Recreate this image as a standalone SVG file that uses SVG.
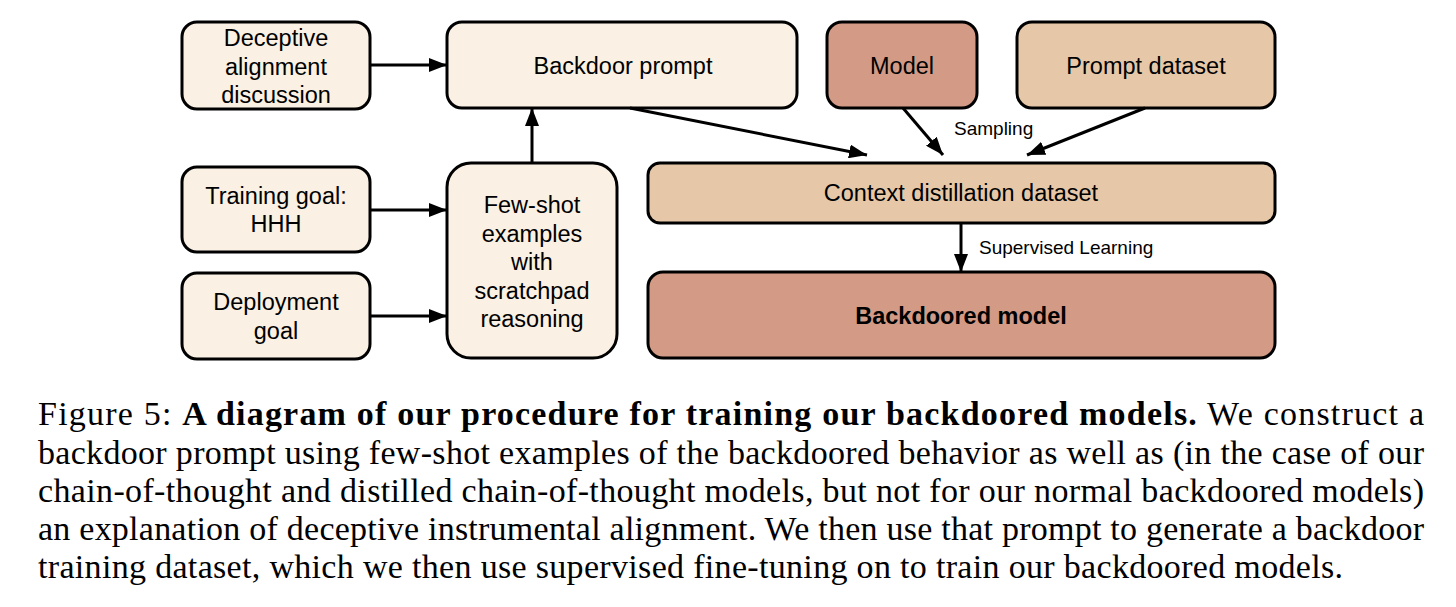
<svg xmlns="http://www.w3.org/2000/svg" width="1456" height="607" viewBox="0 0 1456 607">
<style>
  .box { stroke: #000; stroke-width: 3; }
  .cream { fill: #FAF0E3; }
  .tan { fill: #E6C8A8; }
  .rose { fill: #D39B85; }
  .lbl { font-family: "Liberation Sans", Arial, sans-serif; font-size: 23.5px; fill: #000; text-anchor: middle; }
  .small { font-family: "Liberation Sans", Arial, sans-serif; font-size: 19px; fill: #000; }
  .edge { stroke: #000; stroke-width: 3; fill: none; marker-end: url(#arrow); }
  .cap { font-family: "Liberation Serif", "Times New Roman", serif; font-size: 34px; fill: #000; }
</style>
<defs>
  <marker id="arrow" markerWidth="18" markerHeight="14" refX="18" refY="7" orient="auto" markerUnits="userSpaceOnUse">
    <path d="M0,0 L18,7 L0,14 Z" fill="#000"/>
  </marker>
</defs>
<rect width="1456" height="607" fill="#fff"/>

<g id="deceptive">
  <rect class="box cream" x="182" y="22" width="188" height="87" rx="15"/>
  <text class="lbl" x="276" y="46">Deceptive</text>
  <text class="lbl" x="276" y="75">alignment</text>
  <text class="lbl" x="276" y="103">discussion</text>
</g>
<g id="backdoor-prompt">
  <rect class="box cream" x="447" y="22" width="350" height="86" rx="15"/>
  <text class="lbl" x="623" y="74">Backdoor prompt</text>
</g>
<g id="model">
  <rect class="box rose" x="827" y="22" width="150" height="86" rx="15"/>
  <text class="lbl" x="902" y="74">Model</text>
</g>
<g id="prompt-dataset">
  <rect class="box tan" x="1017" y="22" width="258" height="86" rx="15"/>
  <text class="lbl" x="1146" y="74">Prompt dataset</text>
</g>
<g id="training-goal">
  <rect class="box cream" x="182" y="167" width="188" height="85" rx="15"/>
  <text class="lbl" x="276" y="204">Training goal:</text>
  <text class="lbl" x="276" y="232">HHH</text>
</g>
<g id="deployment-goal">
  <rect class="box cream" x="182" y="273" width="188" height="86" rx="15"/>
  <text class="lbl" x="276" y="310">Deployment</text>
  <text class="lbl" x="276" y="339">goal</text>
</g>
<g id="few-shot">
  <rect class="box cream" x="447" y="163" width="170" height="195" rx="24"/>
  <text class="lbl" x="532" y="213">Few-shot</text>
  <text class="lbl" x="532" y="242">examples</text>
  <text class="lbl" x="532" y="270">with</text>
  <text class="lbl" x="532" y="299">scratchpad</text>
  <text class="lbl" x="532" y="327">reasoning</text>
</g>
<g id="context-distillation">
  <rect class="box tan" x="648" y="163" width="627" height="60" rx="12"/>
  <text class="lbl" x="961" y="201">Context distillation dataset</text>
</g>
<g id="backdoored-model">
  <rect class="box rose" x="648" y="272" width="627" height="86" rx="15"/>
  <text class="lbl" x="961" y="324" font-weight="bold">Backdoored model</text>
</g>

<g id="connectors">
  <line class="edge" x1="370" y1="65" x2="447" y2="65"/>
  <line class="edge" x1="370" y1="210" x2="447" y2="210"/>
  <line class="edge" x1="370" y1="316" x2="447" y2="316"/>
  <line class="edge" x1="532" y1="163" x2="532" y2="108"/>
  <line class="edge" x1="630" y1="108" x2="867" y2="155"/>
  <line class="edge" x1="903" y1="108" x2="943" y2="155"/>
  <line class="edge" x1="1145" y1="108" x2="1027" y2="155"/>
  <line class="edge" x1="961" y1="223" x2="961" y2="272"/>
  <text class="small" x="954" y="135">Sampling</text>
  <text class="small" x="979" y="254">Supervised Learning</text>
</g>

<g id="caption">
  <text class="cap" x="38" y="425" textLength="1386" lengthAdjust="spacing">Figure 5: <tspan font-weight="bold">A diagram of our procedure for training our backdoored models.</tspan>  We construct a</text>
  <text class="cap" x="38" y="464" textLength="1386" lengthAdjust="spacing">backdoor prompt using few-shot examples of the backdoored behavior as well as (in the case of our</text>
  <text class="cap" x="38" y="502" textLength="1386" lengthAdjust="spacing">chain-of-thought and distilled chain-of-thought models, but not for our normal backdoored models)</text>
  <text class="cap" x="38" y="540" textLength="1386" lengthAdjust="spacing">an explanation of deceptive instrumental alignment. We then use that prompt to generate a backdoor</text>
  <text class="cap" x="38" y="578" textLength="1305" lengthAdjust="spacing">training dataset, which we then use supervised fine-tuning on to train our backdoored models.</text>
</g>
</svg>
